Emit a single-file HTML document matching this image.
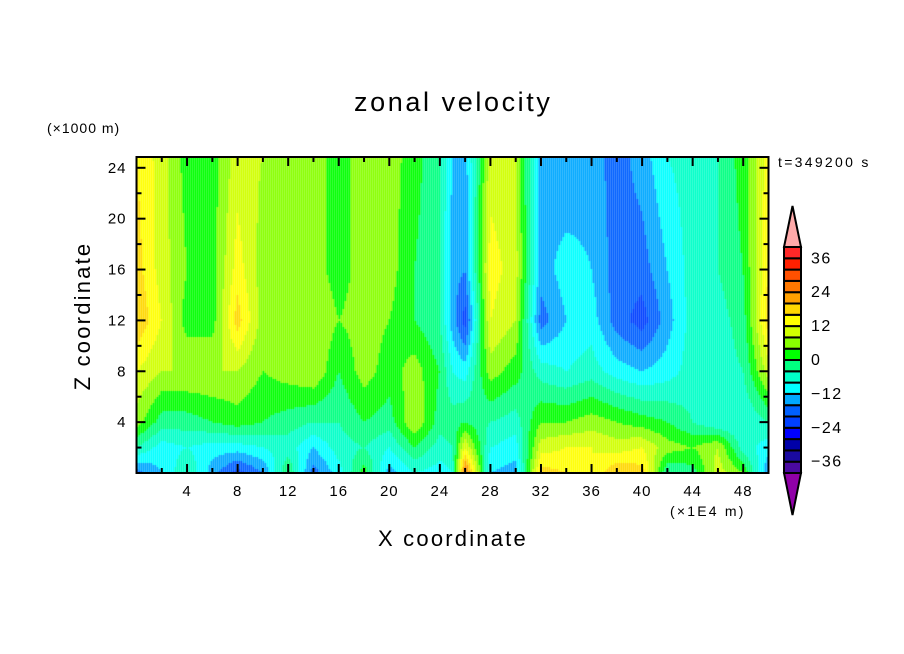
<!DOCTYPE html>
<html><head><meta charset="utf-8"><style>
body{margin:0;background:#fff;}
#wrap{position:relative;width:904px;height:654px;overflow:hidden;background:#fff;font-family:"Liberation Sans",sans-serif;}
.t{position:absolute;color:#000;white-space:nowrap;}
</style></head><body>
<div id="wrap">
<div class="t" style="left:354px;top:87px;font-size:27px;letter-spacing:2.6px;">zonal velocity</div>
<div class="t" style="left:47px;top:120px;font-size:14px;letter-spacing:1px;">(×1000 m)</div>
<div class="t" style="left:778px;top:154px;font-size:14px;letter-spacing:2.3px;">t=349200 s</div>
<div class="t" style="left:670px;top:503px;font-size:14px;letter-spacing:2.2px;">(×1E4 m)</div>
<div class="t" style="left:378px;top:526px;font-size:22px;letter-spacing:2.2px;">X coordinate</div>
<div class="t" style="left:83px;top:316px;font-size:22px;letter-spacing:2.2px;transform:translate(-50%,-50%) rotate(-90deg);">Z coordinate</div>
<canvas id="cv" width="904" height="654" style="position:absolute;left:0;top:0;"></canvas>
<svg id="ov" width="904" height="654" style="position:absolute;left:0;top:0;"></svg>
</div>
<script>
// grid nodes
const xNodes=[0,2,4,6,8,10,12,14,16,18,20,22,24,25,26,28,30,32,34,36,38,40,42,44,46,48,50];
const zNodes=[25,16,12,8,4,2,0];
// values per column (top -> bottom at zNodes)
const col0=[16,18,20,12,6,-4,-18];
const col2=[10,10,12,8,-2,-10,-12];
const col4=[2,4,2,8,-2,-8,-4];
const col6=[2,2,2,8,0,-10,-14];
const col8=[10,14,18,8,2,-10,-22];
const col10=[8,6,6,4,0,-8,-16];
const col12=[6,6,8,6,-2,-6,0];
const col14=[6,6,8,8,-4,-12,-18];
const col16=[2,2,4,0,-4,-6,-10];
const col18=[6,6,6,6,0,-4,2];
const col20=[6,6,4,2,-2,-8,-14];
const col22=[2,0,0,6,8,0,-8];
const col24=[-4,-4,-4,0,-2,-6,-10];
const col25=[-12,-14,-14,-8,-2,-4,-8];
const col26=[-14,-16,-22,-10,0,12,28];
const col28=[10,14,12,6,-4,-8,-12];
const col30=[8,10,8,2,-6,-10,-14];
const col32=[-14,-14,-18,-6,4,10,18];
const col34=[-16,-10,-12,-8,4,12,16];
const col36=[-14,-12,-10,-6,6,12,12];
const col38=[-18,-18,-18,-10,4,10,20];
const col40=[-14,-18,-22,-12,2,12,18];
const col42=[-8,-12,-14,-10,0,6,-4];
const col44=[-6,-6,-6,-6,-4,4,-2];
const col46=[-4,-4,-6,-6,-8,8,10];
const col48=[2,0,-2,-4,-8,-6,4];
const col50=[14,16,18,10,-4,-10,-16];
const columns=[col0,col2,col4,col6,col8,col10,col12,col14,col16,col18,col20,col22,col24,col25,col26,col28,col30,col32,col34,col36,col38,col40,col42,col44,col46,col48,col50];
const cbLabels=[36,24,12,0,-12,-24,-36];
const xTicks=[4,8,12,16,20,24,28,32,36,40,44,48];
const yTicks=[4,8,12,16,20,24];

const L=136.5,R=768.5,T=157,B=473,XMAX=50,ZMAX=24.85;
const sx=x=>L+(R-L)*x/XMAX;
const sz=z=>B-(B-T)*z/ZMAX;
const pal=["#4a0aa0","#1a0aa0","#0000a8","#0000ff","#0040ff","#0060ff","#00a8ff","#00ffff","#00ffc8","#00ff80","#00ff00","#88ff00","#d0ff00","#ffff00","#ffd700","#ffa000","#ff7800","#ff5000","#ff2000","#ff2828"];
function colorOf(v){let k=Math.floor((v+40)/4);if(k<0)k=0;if(k>19)k=19;return pal[k];}
function seg(arr,v){for(let i=0;i<arr.length-1;i++){const a=arr[i],b=arr[i+1];if((v>=Math.min(a,b))&&(v<=Math.max(a,b)))return [i,(v-a)/(b-a)];}return [arr.length-2,1];}
function val(x,z){const [i,fx]=seg(xNodes,x);const [j,fz]=seg(zNodes,z);
 const a=columns[i][j],b=columns[i+1][j],c=columns[i][j+1],d=columns[i+1][j+1];
 return (a*(1-fx)+b*fx)*(1-fz)+(c*(1-fx)+d*fx)*fz;}
const ctx=document.getElementById('cv').getContext('2d');
const step=2;
for(let px=L;px<R;px+=step){for(let py=T;py<B;py+=step){
 const x=(px+step/2-L)/(R-L)*XMAX, z=(B-(py+step/2))/(B-T)*ZMAX;
 ctx.fillStyle=colorOf(val(x,z));ctx.fillRect(px,py,step,step);}}
// axes overlay
const NS="http://www.w3.org/2000/svg";const ov=document.getElementById('ov');
function mk(tag,at){const e=document.createElementNS(NS,tag);for(const k in at)e.setAttribute(k,at[k]);ov.appendChild(e);return e;}
const frame=mk('rect',{x:L,y:T,width:R-L,height:B-T,fill:'none',stroke:'#000','stroke-width':2});


for(let x=2;x<50;x+=2){const len=(x%4===0)?9:5;
 mk('line',{x1:sx(x),x2:sx(x),y1:B,y2:B-len,stroke:'#000','stroke-width':2});
 mk('line',{x1:sx(x),x2:sx(x),y1:T,y2:T+len,stroke:'#000','stroke-width':2});}
for(let z=2;z<=24;z+=2){const len=(z%4===0)?9:5;
 mk('line',{x1:L,x2:L+len,y1:sz(z),y2:sz(z),stroke:'#000','stroke-width':2});
 mk('line',{x1:R,x2:R-len,y1:sz(z),y2:sz(z),stroke:'#000','stroke-width':2});}
xTicks.forEach(v=>{const t=mk('text',{x:sx(v),y:B+23,'text-anchor':'middle','font-size':15,'letter-spacing':1,'font-family':'Liberation Sans, sans-serif'});t.textContent=v;
 
 });
yTicks.forEach(v=>{const t=mk('text',{x:L-10,y:sz(v)+5,'text-anchor':'end','font-size':15,'letter-spacing':1,'font-family':'Liberation Sans, sans-serif'});t.textContent=v;
 
 });
// colorbar
const cbX=784,cbW=17,cbT=247,cbB=473,bh=(cbB-cbT)/20;
const up=mk('polygon',{points:`${cbX},${cbT} ${cbX+cbW},${cbT} ${cbX+cbW/2},206`,fill:'#ffaaaa',stroke:'#000','stroke-width':2});


const dn=mk('polygon',{points:`${cbX},${cbB} ${cbX+cbW},${cbB} ${cbX+cbW/2},515`,fill:'#9000a8',stroke:'#000','stroke-width':2});


for(let k=0;k<20;k++){const r=mk('rect',{x:cbX,y:cbB-(k+1)*bh,width:cbW,height:bh,fill:pal[k],stroke:'#000','stroke-width':2});
 
 }
cbLabels.forEach(v=>{const y=cbT+(40-v)/4*bh;const t=mk('text',{x:811,y:y+5,'font-size':16,'letter-spacing':1.5,'font-family':'Liberation Sans, sans-serif'});t.textContent=(v<0?'\u2212'+(-v):v);
 
 });
</script>
</body></html>
